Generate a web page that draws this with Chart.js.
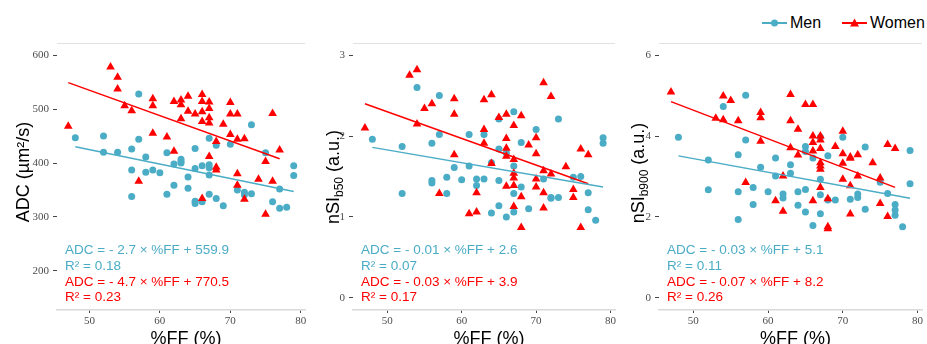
<!DOCTYPE html>
<html>
<head>
<meta charset="utf-8">
<title>%FF vs ADC and nSI</title>
<script src="https://cdn.jsdelivr.net/npm/chart.js"></script>
<style>
    body { margin: 0; width: 927px; height: 344px; overflow: hidden; background: #fff; position: relative;
           font-family: "Liberation Sans", Arial, sans-serif; }
    .panel { position: absolute; top: 0; }
    .panel canvas { display: block; }
    .key { position: absolute; top: 13px; height: 20px; display: flex; align-items: center; font-size: 16px; color: #000; }
    .key svg { margin-right: 2px; }
</style>
</head>
<body>
    <!-- Legend -->
    <div class="key" style="left:761px">
        <svg width="27" height="12"><line x1="1" y1="6" x2="26" y2="6" stroke="#4BACC6" stroke-width="2"/><circle cx="13.5" cy="6" r="3.5" fill="#4BACC6"/></svg>Men
    </div>
    <div class="key" style="left:841px">
        <svg width="27" height="12"><line x1="1" y1="6" x2="26" y2="6" stroke="#FF0000" stroke-width="2"/><polygon points="13.5,1.5 18,9.5 9,9.5" fill="#FF0000"/></svg>Women
    </div>

    <div class="panel" style="left:0px"><canvas id="c1" width="310" height="360"></canvas></div>
    <div class="panel" style="left:310px"><canvas id="c2" width="310" height="360"></canvas></div>
    <div class="panel" style="left:620px"><canvas id="c3" width="307" height="360"></canvas></div>

    <script>
        const menColor = '#4BACC6';
        const womenColor = '#FF0000';

        // tick labels
        const xTicks = [50, 60, 70, 80];
        const adcTicks = [200, 300, 400, 500, 600];
        const b50Ticks = [0, 1, 2, 3];
        const b900Ticks = [0, 2, 4, 6];

        // [%FF, value]
        const adcMen = [[48,447],[52,450],[52,420],[54,420],[56,426],[56,387],[56,338],[57,528],[57,444],[58,411],[58,383],[59,387],[60,382],[61,419],[61,342],[62,398],[62,359],[63,407],[63,403],[63,400],[64,374],[64,353],[65,427],[65,390],[65,329],[65,325],[66,395],[66,328],[67,446],[67,397],[67,391],[67,378],[67,342],[68,433],[68,334],[69,321],[70,435],[71,350],[72,346],[72,341],[73,471],[73,343],[75,419],[76,328],[77,352],[77,316],[78,318],[79,395],[79,377]];
        const adcWomen = [[47,468],[53,578],[54,559],[54,537],[55,506],[56,497],[57,366],[59,519],[59,506],[59,455],[61,448],[62,514],[62,422],[63,517],[63,508],[63,482],[64,524],[64,496],[65,491],[66,527],[66,514],[66,495],[66,477],[66,334],[67,513],[67,501],[67,484],[67,474],[67,412],[68,440],[68,392],[68,387],[69,472],[70,512],[70,491],[70,453],[71,491],[71,444],[71,380],[71,359],[72,445],[72,333],[74,370],[75,403],[75,305],[76,492],[76,366],[77,424]];
        const adcMenFit = [[48,430],[79,347]];
        const adcWomenFit = [[47,549],[77,408]];

        const b50Men = [[48,1.96],[52,1.87],[52,1.29],[54,2.60],[56,1.91],[56,1.45],[56,1.42],[57,2.50],[57,2.02],[58,1.49],[58,1.29],[59,1.61],[60,1.46],[61,2.02],[61,1.63],[62,1.47],[62,1.39],[63,2.02],[63,1.47],[64,1.67],[64,1.05],[65,2.21],[65,1.84],[65,1.45],[65,1.14],[66,1.79],[66,1.00],[67,2.30],[67,1.63],[67,1.29],[67,1.06],[68,1.92],[68,1.37],[69,1.10],[70,2.08],[71,1.47],[72,1.24],[72,1.23],[73,2.21],[73,1.24],[75,1.49],[76,1.50],[77,1.30],[77,1.09],[78,0.96],[79,1.98],[79,1.91]];
        const b50Women = [[47,2.10],[53,2.75],[54,2.82],[54,2.15],[55,2.34],[56,2.40],[57,1.29],[59,2.46],[59,2.27],[59,1.77],[61,1.04],[62,1.30],[62,1.06],[63,2.45],[63,2.08],[63,1.91],[64,2.51],[64,1.66],[65,2.23],[66,2.27],[66,1.97],[66,1.85],[66,1.75],[66,1.38],[67,2.13],[67,1.71],[67,1.54],[67,1.48],[67,1.39],[67,1.13],[68,2.25],[68,1.25],[68,0.87],[69,1.89],[70,1.98],[70,1.78],[70,1.47],[70,1.37],[71,2.66],[71,1.57],[71,1.30],[71,1.11],[72,2.49],[72,1.53],[74,1.62],[75,1.34],[75,1.24],[76,1.84],[76,0.87],[77,1.77]];
        const b50MenFit = [[48,1.86],[79,1.37]];
        const b50WomenFit = [[47,2.40],[77,1.41]];

        const b900Men = [[48,3.97],[52,3.41],[52,2.67],[54,4.73],[56,3.54],[56,2.62],[56,1.94],[57,5.01],[57,3.90],[58,2.73],[58,2.31],[59,3.23],[60,2.62],[61,3.46],[61,3.01],[62,2.57],[62,2.47],[63,3.29],[63,3.08],[64,2.62],[64,2.29],[65,3.74],[65,3.62],[65,2.68],[65,2.12],[66,3.46],[66,1.79],[67,3.97],[67,2.93],[67,2.55],[67,2.08],[68,3.51],[68,2.42],[69,2.42],[70,3.97],[71,2.44],[72,2.57],[72,2.48],[73,3.73],[73,2.19],[75,2.86],[76,2.58],[77,2.31],[77,2.17],[77,2.04],[78,1.76],[79,3.64],[79,2.82]];
        const b900Women = [[47,5.09],[53,4.44],[54,4.99],[54,4.40],[55,4.88],[56,4.38],[57,2.85],[59,4.58],[59,4.45],[59,3.87],[61,2.40],[62,3.01],[62,2.14],[63,5.03],[63,4.38],[63,3.71],[64,4.17],[64,3.53],[65,4.78],[66,4.78],[66,4.00],[66,3.84],[66,3.63],[66,2.40],[67,4.00],[67,3.90],[67,3.69],[67,3.34],[67,3.26],[67,3.18],[67,2.73],[68,2.45],[68,1.76],[68,1.71],[69,3.74],[70,4.12],[70,3.56],[70,3.33],[70,2.93],[71,3.48],[71,3.45],[71,2.77],[71,2.07],[72,3.54],[72,3.01],[74,3.34],[75,2.96],[75,2.33],[76,3.79],[76,2.01],[77,3.69]];
        const b900MenFit = [[48,3.51],[79,2.46]];
        const b900WomenFit = [[47,4.85],[77,2.73]];

        const adcNotes = ['ADC = - 2.7 × %FF + 559.9', 'R² = 0.18', 'ADC = - 4.7 × %FF + 770.5', 'R² = 0.23'];
        const b50Notes = ['ADC = - 0.01 × %FF + 2.6', 'R² = 0.07', 'ADC = - 0.03 × %FF + 3.9', 'R² = 0.17'];
        const b900Notes = ['ADC = - 0.03 × %FF + 5.1', 'R² = 0.11', 'ADC = - 0.07 × %FF + 8.2', 'R² = 0.26'];

        const sans = '"Liberation Sans", Arial, sans-serif';
        const serif = '"Liberation Serif", "Times New Roman", serif';
        const noteY = [250, 266, 282, 297];

        const toPts = arr => arr.map(p => ({ x: p[0], y: p[1] }));

        // titles, notes and the top border line
        const panelText = {
            id: 'panelText',
            afterDraw(chart, args, o) {
                const ctx = chart.ctx, a = chart.chartArea;
                ctx.save();
                ctx.strokeStyle = '#e2e2e2';
                ctx.lineWidth = 1.2;
                ctx.beginPath();
                ctx.moveTo(a.left, a.top + 0.5);
                ctx.lineTo(a.right, a.top + 0.5);
                ctx.stroke();

                ctx.font = '13.5px ' + sans;
                ctx.textAlign = 'left';
                ctx.textBaseline = 'middle';
                o.notes.forEach((t, i) => {
                    ctx.fillStyle = i < 2 ? menColor : womenColor;
                    ctx.fillText(t, a.left + 8, noteY[i]);
                });

                ctx.fillStyle = '#000';
                ctx.font = '18px ' + sans;
                ctx.textAlign = 'center';
                ctx.textBaseline = 'alphabetic';
                ctx.fillText('%FF (%)', (a.left + a.right) / 2 + 5, 344);

                // y title, rotated, with an optional subscript part
                ctx.translate(o.titleX, o.titleY);
                ctx.rotate(-Math.PI / 2);
                ctx.textAlign = 'left';
                let total = 0;
                o.title.forEach(p => { ctx.font = p.size + 'px ' + sans; total += ctx.measureText(p.t).width; });
                let x = -total / 2;
                o.title.forEach(p => {
                    ctx.font = p.size + 'px ' + sans;
                    ctx.fillText(p.t, x, p.sub ? 10.5 : 6.5);
                    x += ctx.measureText(p.t).width;
                });
                ctx.restore();
            }
        };

        function makePanel(id, cfg) {
            const pointSet = (label, arr, color, style, r, order) => ({
                label: label, data: toPts(arr), backgroundColor: color, borderColor: color, borderWidth: 0,
                pointStyle: style, pointRadius: r, order: order
            });
            const lineSet = (arr, color) => ({
                type: 'line', data: toPts(arr), borderColor: color, borderWidth: 1.5,
                pointRadius: 0, showLine: true, fill: false, order: 0
            });
            return new Chart(document.getElementById(id), {
                type: 'scatter',
                data: {
                    datasets: [
                        lineSet(cfg.menFit, menColor),
                        lineSet(cfg.womenFit, womenColor),
                        pointSet('Women', cfg.women, womenColor, 'triangle', 5, 1),
                        pointSet('Men', cfg.men, menColor, 'circle', 3.5, 2)
                    ]
                },
                options: {
                    responsive: false,
                    animation: false,
                    layout: { padding: { left: 0, right: cfg.padRight, top: 43, bottom: 16 } },
                    plugins: {
                        legend: { display: false },
                        tooltip: { enabled: false },
                        panelText: { notes: cfg.notes, title: cfg.title, titleX: cfg.titleX, titleY: cfg.titleY }
                    },
                    scales: {
                        x: {
                            type: 'linear', min: 45.4, max: 80.6,
                            afterBuildTicks: s => { s.ticks = xTicks.map(v => ({ value: v })); },
                            afterFit: s => { s.height = 34; },
                            ticks: { font: { family: serif, size: 11 }, color: '#4d4d4d', padding: 2, maxRotation: 0 },
                            grid: { drawOnChartArea: false, drawTicks: true, tickLength: 3, tickColor: '#444' },
                            border: { display: true, color: '#d9d9d9', width: 1.5 }
                        },
                        y: {
                            type: 'linear', min: cfg.yMin, max: cfg.yMax,
                            afterBuildTicks: s => { s.ticks = cfg.yTicks.map(v => ({ value: v })); },
                            afterFit: s => { s.width = cfg.axisWidth; },
                            ticks: { font: { family: serif, size: 11 }, color: '#4d4d4d', padding: 4 },
                            grid: { drawOnChartArea: false, drawTicks: true, tickLength: 4, tickColor: '#444' },
                            border: { display: false }
                        }
                    }
                },
                plugins: [panelText]
            });
        }

        makePanel('c1', {
            men: adcMen, women: adcWomen, menFit: adcMenFit, womenFit: adcWomenFit,
            yMin: 127.5, yMax: 622.5, yTicks: adcTicks, axisWidth: 57, padRight: 2,
            notes: adcNotes, title: [{ t: 'ADC (µm²/s)', size: 18 }], titleX: 22, titleY: 172
        });
        makePanel('c2', {
            men: b50Men, women: b50Women, menFit: b50MenFit, womenFit: b50WomenFit,
            yMin: -0.15, yMax: 3.15, yTicks: b50Ticks, axisWidth: 43, padRight: 3,
            notes: b50Notes, title: [{ t: 'nSI', size: 18 }, { t: 'b50', size: 12, sub: true }, { t: ' (a.u.)', size: 18 }],
            titleX: 22, titleY: 177
        });
        makePanel('c3', {
            men: b900Men, women: b900Women, menFit: b900MenFit, womenFit: b900WomenFit,
            yMin: -0.3, yMax: 6.3, yTicks: b900Ticks, axisWidth: 39, padRight: 3,
            notes: b900Notes, title: [{ t: 'nSI', size: 18 }, { t: 'b900', size: 12, sub: true }, { t: ' (a.u.)', size: 18 }],
            titleX: 17, titleY: 173
        });
    </script>
</body>
</html>
